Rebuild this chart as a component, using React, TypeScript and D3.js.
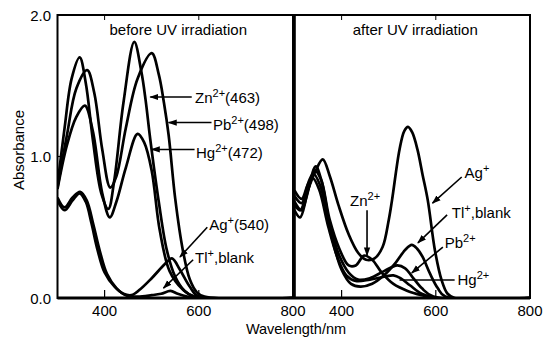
import React, { useEffect, useRef } from "react";
import * as d3 from "d3";

// [wavelength nm, absorbance]
const beforeZn = [[300,0.80],[315,1.2],[330,1.55],[347,1.70],[360,1.52],[375,1.12],[393,0.74],[408,0.63],[420,0.82],[440,1.38],[463,1.81],[478,1.6],[487,1.4],[497,1.12],[515,0.68],[532,0.34],[550,0.15],[570,0.05],[590,0.01],[610,0],[800,0]];
const beforePb = [[300,0.78],[320,1.15],[340,1.48],[363,1.61],[378,1.45],[395,1.05],[412,0.78],[425,0.86],[445,1.2],[470,1.55],[500,1.73],[515,1.58],[526,1.38],[536,1.15],[550,0.7],[566,0.34],[581,0.13],[596,0.04],[612,0.01],[800,0]];
const beforeHg = [[300,0.77],[320,1.08],[340,1.28],[358,1.36],[375,1.18],[395,0.74],[411,0.57],[425,0.68],[445,0.92],[470,1.16],[484,1.1],[500,0.9],[517,0.48],[538,0.19],[566,0.06],[590,0.01],[800,0]];
const beforeAg = [[300,0.69],[315,0.62],[332,0.69],[347,0.74],[360,0.68],[372,0.53],[385,0.34],[400,0.18],[421,0.08],[440,0.03],[457,0.02],[475,0.06],[500,0.14],[528,0.24],[543,0.28],[560,0.2],[581,0.08],[600,0.01],[800,0]];
const beforeTl = [[300,0.71],[315,0.64],[332,0.71],[348,0.75],[362,0.69],[376,0.52],[390,0.33],[405,0.17],[425,0.07],[445,0.02],[470,0.01],[500,0.02],[520,0.03],[540,0.05],[555,0.03],[575,0.01],[600,0],[800,0]];

const afterAg = [[300,0.66],[312,0.62],[328,0.76],[345,0.9],[360,0.98],[375,0.86],[393,0.66],[415,0.45],[435,0.32],[452,0.27],[470,0.28],[487,0.36],[500,0.55],[507,0.69],[523,1.05],[533,1.18],[541,1.21],[550,1.17],[561,1.05],[572,0.87],[583,0.69],[598,0.34],[612,0.13],[625,0.03],[640,0],[800,0]];
const afterZn = [[300,0.68],[315,0.62],[330,0.78],[343,0.9],[356,0.84],[375,0.55],[395,0.35],[415,0.23],[430,0.23],[448,0.3],[465,0.27],[485,0.18],[510,0.1],[540,0.05],[570,0.02],[600,0],[800,0]];
const afterPb = [[300,0.72],[315,0.67],[330,0.82],[340,0.88],[354,0.8],[375,0.52],[395,0.3],[415,0.18],[435,0.13],[460,0.14],[490,0.19],[518,0.23],[535,0.21],[550,0.15],[570,0.07],[595,0.01],[800,0]];
const afterHg = [[300,0.76],[315,0.7],[328,0.8],[338,0.85],[352,0.77],[372,0.5],[392,0.28],[410,0.16],[430,0.12],[460,0.13],[490,0.15],[510,0.16],[525,0.14],[545,0.09],[570,0.03],[600,0],[800,0]];
const afterTl = [[300,0.62],[312,0.57],[326,0.72],[345,0.93],[358,0.82],[378,0.45],[400,0.2],[420,0.1],[440,0.08],[465,0.1],[490,0.16],[515,0.25],[535,0.34],[549,0.375],[560,0.35],[572,0.29],[588,0.17],[604,0.07],[620,0.01],[800,0]];

const beforeCurves = [beforeZn, beforePb, beforeHg, beforeAg, beforeTl];
const afterCurves = [afterAg, afterZn, afterPb, afterHg, afterTl];

const xTicks = [400, 600, 800];
const yTicks = [0, 1, 2];
const panelTitles = ["before UV irradiation", "after UV irradiation"];

// label parts: [text, superscript?]; positions in data units (nm, absorbance)
const beforeNotes = [
    { parts: [["Zn", false], ["2+", true], ["(463)", false]], tx: 592, ty: 1.38, from: [585, 1.42], to: [497, 1.42], head: true },
    { parts: [["Pb", false], ["2+", true], ["(498)", false]], tx: 630, ty: 1.19, from: [627, 1.24], to: [536, 1.24], head: true },
    { parts: [["Hg", false], ["2+", true], ["(472)", false]], tx: 594, ty: 0.99, from: [591, 1.05], to: [500, 1.05], head: true },
    { parts: [["Ag", false], ["+", true], ["(540)", false]], tx: 622, ty: 0.48, from: [618, 0.50], to: [560, 0.29], head: true },
    { parts: [["Tl", false], ["+", true], [",blank", false]], tx: 592, ty: 0.25, from: [588, 0.27], to: [525, 0.07], head: true },
];
const afterNotes = [
    { parts: [["Ag", false], ["+", true]], tx: 661, ty: 0.85, from: [655, 0.855], to: [593, 0.67], head: true },
    { parts: [["Tl", false], ["+", true], [",blank", false]], tx: 634, ty: 0.565, from: [624, 0.587], to: [562, 0.39], head: true },
    { parts: [["Pb", false], ["2+", true]], tx: 619, ty: 0.353, from: [615, 0.36], to: [549, 0.177], head: true },
    { parts: [["Hg", false], ["2+", true]], tx: 646, ty: 0.092, from: [640, 0.127], to: [523, 0.127], head: false },
    { parts: [["Zn", false], ["2+", true]], tx: 418, ty: 0.65, from: [454, 0.62], to: [454, 0.30], head: true },
];

const App = () => {
    const ref = useRef<HTMLDivElement>(null);

    useEffect(() => {
        document.body.style.margin = "0";
        const W = 545, H = 337;
        const top = 15, bottom = 298;
        const font = "'Liberation Sans', Arial, sans-serif";

        const svg = d3.select(ref.current).html("").append("svg")
            .attr("width", W).attr("height", H)
            .style("font-family", font);

        const y = d3.scaleLinear().domain([0, 2]).range([bottom, top]);
        const xL = d3.scaleLinear().domain([300, 800]).range([57.5, 293]);
        const xR = d3.scaleLinear().domain([300, 800]).range([294.5, 530]);

        svg.append("defs").append("marker")
            .attr("id", "ah").attr("viewBox", "0 0 10 10")
            .attr("refX", 9).attr("refY", 5)
            .attr("markerWidth", 9).attr("markerHeight", 9)
            .attr("markerUnits", "userSpaceOnUse")
            .attr("orient", "auto")
            .append("path").attr("d", "M0,1.5L10,5L0,8.5Z").attr("fill", "#000");

        const drawPanel = (x, curves, notes, title, id) => {
            const [x0, x1] = x.range();
            svg.append("clipPath").attr("id", id)
                .append("rect").attr("x", x0).attr("y", top).attr("width", x1 - x0).attr("height", bottom - top);

            const line = d3.line().x((d) => x(d[0])).y((d) => y(d[1])).curve(d3.curveCatmullRom.alpha(0.5));
            svg.append("g").attr("clip-path", `url(#${id})`)
                .selectAll("path").data(curves).join("path")
                .attr("d", (d) => line(d))
                .attr("fill", "none").attr("stroke", "#000")
                .attr("stroke-width", 2.7).attr("stroke-linejoin", "round");

            // inward ticks
            const g = svg.append("g");
            xTicks.filter((t) => t < 800).forEach((t) => {
                g.append("line").attr("x1", x(t)).attr("x2", x(t)).attr("y1", bottom).attr("y2", bottom - 8)
                    .attr("stroke", "#000").attr("stroke-width", 1.2);
                g.append("line").attr("x1", x(t)).attr("x2", x(t)).attr("y1", top).attr("y2", top + 5)
                    .attr("stroke", "#000").attr("stroke-width", 1);
            });
            g.selectAll("text.tick").data(xTicks).join("text")
                .attr("x", (d) => x(d)).attr("y", 316)
                .attr("text-anchor", "middle").attr("font-size", 15)
                .text((d) => d);

            svg.append("rect").attr("x", x0).attr("y", top).attr("width", x1 - x0).attr("height", bottom - top)
                .attr("fill", "none").attr("stroke", "#000").attr("stroke-width", 2);

            svg.append("text").attr("x", (x0 + x1) / 2 + 3).attr("y", 35)
                .attr("text-anchor", "middle").attr("font-size", 15).text(title);

            notes.forEach((n) => {
                svg.append("line")
                    .attr("x1", x(n.from[0])).attr("y1", y(n.from[1]))
                    .attr("x2", x(n.to[0])).attr("y2", y(n.to[1]))
                    .attr("stroke", "#000").attr("stroke-width", 1.6)
                    .attr("marker-end", n.head ? "url(#ah)" : null);
                const t = svg.append("text").attr("x", x(n.tx)).attr("y", y(n.ty)).attr("font-size", 15);
                let up = false;
                n.parts.forEach(([s, sup]) => {
                    const sp = t.append("tspan").text(s);
                    if (sup && !up) { sp.attr("dy", -6).attr("font-size", 11); up = true; }
                    else if (!sup && up) { sp.attr("dy", 6); up = false; }
                });
            });
        };

        drawPanel(xL, beforeCurves, beforeNotes, panelTitles[0], "clipL");
        drawPanel(xR, afterCurves, afterNotes, panelTitles[1], "clipR");

        // thick divider and bottom line
        svg.append("line").attr("x1", 294).attr("x2", 294).attr("y1", top).attr("y2", bottom)
            .attr("stroke", "#000").attr("stroke-width", 3.2);
        svg.append("line").attr("x1", 57.5).attr("x2", 530).attr("y1", bottom).attr("y2", bottom)
            .attr("stroke", "#000").attr("stroke-width", 3);

        // y axis
        yTicks.forEach((t) => {
            svg.append("text").attr("x", 51).attr("y", y(t) + 5.5)
                .attr("text-anchor", "end").attr("font-size", 15).text(t.toFixed(1));
            svg.append("line").attr("x1", 57.5).attr("x2", 62).attr("y1", y(t)).attr("y2", y(t))
                .attr("stroke", "#000").attr("stroke-width", 1.2);
        });
        svg.append("text").attr("transform", "rotate(-90)")
            .attr("x", -150).attr("y", 24)
            .attr("text-anchor", "middle").attr("font-size", 15).text("Absorbance");
        svg.append("text").attr("x", 296).attr("y", 334)
            .attr("text-anchor", "middle").attr("font-size", 14.5).text("Wavelength/nm");
    }, []);

    return <div ref={ref} />;
};

export default App;
